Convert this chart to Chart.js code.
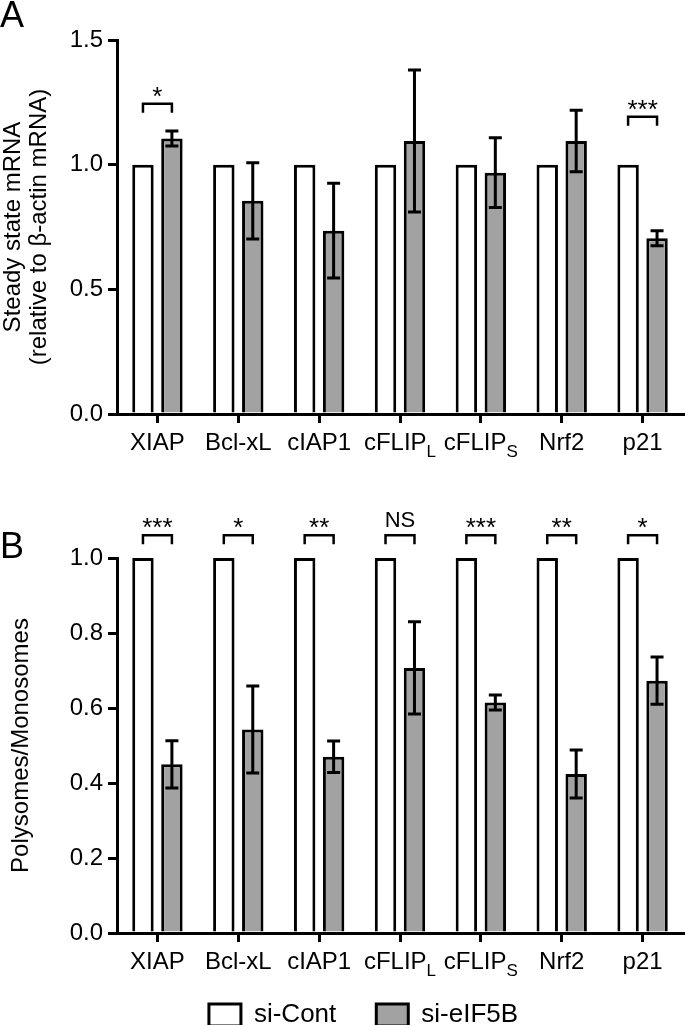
<!DOCTYPE html>
<html>
<head>
<meta charset="utf-8">
<script src="https://cdn.jsdelivr.net/npm/chart.js@4.4.1/dist/chart.umd.min.js"></script>
<style>
  html, body { margin: 0; padding: 0; background: #fff; overflow: hidden; }
  #page { position: relative; width: 685px; height: 1025px; overflow: hidden; }
  .panel-letter { position: absolute; left: 0; font: 36px 'Liberation Sans', Arial, sans-serif; line-height: 1; }
  canvas { position: absolute; left: 0; }
</style>
</head>
<body>
<div id="page">
  <canvas id="chartA" width="685" height="470" style="top:0"></canvas>
  <canvas id="chartB" width="685" height="575" style="top:470px"></canvas>
  <div class="panel-letter" style="top:-3px">A</div>
  <div class="panel-letter" style="top:528px">B</div>
</div>
<script>
const genes = ['XIAP', 'Bcl-xL', 'cIAP1', 'cFLIP_L', 'cFLIP_S', 'Nrf2', 'p21'];

// A: steady state mRNA, relative to beta-actin
const mrnaCont = [1, 1, 1, 1, 1, 1, 1];
const mrnaKd = [1.105, 0.855, 0.735, 1.095, 0.968, 1.095, 0.705];
const mrnaKdErr = [0.03, 0.153, 0.19, 0.285, 0.14, 0.123, 0.03];
const mrnaSig = ['*', '', '', '', '', '', '***'];
const mrnaTicks = [0, 0.5, 1.0, 1.5];

// B: polysomes / monosomes
const polyCont = [1, 1, 1, 1, 1, 1, 1];
const polyKd = [0.45, 0.543, 0.47, 0.707, 0.615, 0.424, 0.673];
const polyKdErr = [0.063, 0.116, 0.042, 0.123, 0.02, 0.064, 0.063];
const polySig = ['***', '*', '**', 'NS', '***', '**', '*'];
const polyTicks = [0, 0.2, 0.4, 0.6, 0.8, 1.0];

const FONT = "'Liberation Sans', Arial, sans-serif";
Chart.defaults.font.family = FONT;
Chart.defaults.color = '#000';

// error bars on the si-eIF5B bars
const errorBars = {
    id: 'errorBars',
    afterDatasetsDraw(chart, args, opts) {
        const ctx = chart.ctx;
        const y = chart.scales.y;
        const meta = chart.getDatasetMeta(1);
        const vals = chart.data.datasets[1].data;
        ctx.save();
        ctx.strokeStyle = '#000';
        ctx.lineWidth = 3;
        opts.err.forEach((e, i) => {
            const x = meta.data[i].x;
            const top = y.getPixelForValue(vals[i] + e);
            const bot = y.getPixelForValue(vals[i] - e);
            ctx.beginPath();
            ctx.moveTo(x, top);
            ctx.lineTo(x, bot);
            ctx.moveTo(x - 6.5, top);
            ctx.lineTo(x + 6.5, top);
            ctx.moveTo(x - 6.5, bot);
            ctx.lineTo(x + 6.5, bot);
            ctx.stroke();
        });
        ctx.restore();
    },
};

// category labels with subscripts (cFLIP_L -> cFLIP + small lowered L)
const subLabels = {
    id: 'subLabels',
    afterDraw(chart) {
        const ctx = chart.ctx;
        const x = chart.scales.x;
        const base = chart.chartArea.bottom + 36;
        ctx.save();
        ctx.fillStyle = '#000';
        ctx.textBaseline = 'alphabetic';
        ctx.textAlign = 'left';
        chart.data.labels.forEach((lab, i) => {
            const [main, sub] = lab.split('_');
            ctx.font = '24px ' + FONT;
            const w1 = ctx.measureText(main).width;
            ctx.font = '17px ' + FONT;
            const w2 = sub ? ctx.measureText(sub).width : 0;
            const left = x.getPixelForTick(i) - (w1 + w2) / 2;
            ctx.font = '24px ' + FONT;
            ctx.fillText(main, left, base);
            if (sub) {
                ctx.font = '17px ' + FONT;
                ctx.fillText(sub, left + w1, base + 7);
            }
        });
        ctx.restore();
    },
};

// significance brackets above each pair
const sigMarks = {
    id: 'sigMarks',
    afterDraw(chart, args, opts) {
        const ctx = chart.ctx;
        const y = chart.scales.y;
        const m0 = chart.getDatasetMeta(0);
        const m1 = chart.getDatasetMeta(1);
        ctx.save();
        ctx.strokeStyle = '#000';
        ctx.fillStyle = '#000';
        ctx.lineWidth = 2.5;
        ctx.textAlign = 'center';
        ctx.textBaseline = 'alphabetic';
        opts.text.forEach((t, i) => {
            if (!t) return;
            const x1 = m0.data[i].x;
            const x2 = m1.data[i].x;
            const yb = y.getPixelForValue(opts.level[i]);
            ctx.beginPath();
            ctx.moveTo(x1, yb + 9);
            ctx.lineTo(x1, yb);
            ctx.lineTo(x2, yb);
            ctx.lineTo(x2, yb + 9);
            ctx.stroke();
            if (t.startsWith('*')) {
                ctx.font = '26px ' + FONT;
                ctx.fillText(t, (x1 + x2) / 2, yb + 1);
            } else {
                ctx.font = '22px ' + FONT;
                ctx.fillText(t, (x1 + x2) / 2, yb - 8);
            }
        });
        ctx.restore();
    },
};

function makeDatasets(cont, kd) {
    return [
        {
            label: 'si-Cont',
            data: cont,
            backgroundColor: '#ffffff',
            borderColor: '#000000',
            borderWidth: 3,
            categoryPercentage: 0.716,
            barPercentage: 0.74,
        },
        {
            label: 'si-eIF5B',
            data: kd,
            backgroundColor: '#a2a2a2',
            borderColor: '#000000',
            borderWidth: 3,
            categoryPercentage: 0.716,
            barPercentage: 0.74,
        },
    ];
}

function makeScales(tickList, max, title, xHeight, yWidth, titlePad) {
    return {
        x: {
            afterFit(scale) { scale.height = xHeight; },
            ticks: { display: false },
            grid: { offset: false, drawOnChartArea: false, tickLength: 9, lineWidth: 3, color: '#000' },
            border: { color: '#000', width: 3 },
        },
        y: {
            min: 0,
            max: max,
            afterFit(scale) { scale.width = yWidth; },
            afterBuildTicks(scale) { scale.ticks = tickList.map(v => ({ value: v })); },
            ticks: {
                callback: v => v.toFixed(1),
                font: { size: 24 },
                color: '#000',
                padding: 5,
            },
            grid: { drawOnChartArea: false, tickLength: 9, lineWidth: 3, color: '#000' },
            border: { color: '#000', width: 3 },
            title: {
                display: true,
                text: title,
                color: '#000',
                font: { size: 24, lineHeight: 1.08 },
                padding: { top: titlePad, bottom: 0 },
            },
        },
    };
}

const mrnaChart = new Chart(document.getElementById('chartA'), {
    type: 'bar',
    data: { labels: genes, datasets: makeDatasets(mrnaCont, mrnaKd) },
    options: {
        responsive: false,
        animation: false,
        devicePixelRatio: 1,
        layout: { padding: { top: 40, right: 2, left: 0, bottom: 0 } },
        scales: makeScales(mrnaTicks, 1.5, ['Steady state mRNA', '(relative to \u03b2-actin mRNA)'], 56, 117, 0),
        plugins: {
            legend: { display: false },
            tooltip: { enabled: false },
            errorBars: { err: mrnaKdErr },
            sigMarks: { text: mrnaSig, level: [1.244, 0, 0, 0, 0, 0, 1.192] },
        },
    },
    plugins: [errorBars, subLabels, sigMarks],
});

const polyChart = new Chart(document.getElementById('chartB'), {
    type: 'bar',
    data: { labels: genes, datasets: makeDatasets(polyCont, polyKd) },
    options: {
        responsive: false,
        animation: false,
        devicePixelRatio: 1,
        layout: { padding: { top: 88, right: 2, left: 44, bottom: 7 } },
        scales: makeScales(polyTicks, 1.0, ['Polysomes/Monosomes'], 29, 73, -36),
        plugins: {
            legend: {
                position: 'bottom',
                labels: { boxWidth: 32, boxHeight: 22, padding: 40, color: '#000', font: { size: 26 } },
            },
            tooltip: { enabled: false },
            errorBars: { err: polyKdErr },
            sigMarks: { text: polySig, level: [1.061, 1.061, 1.061, 1.061, 1.061, 1.061, 1.061] },
        },
    },
    plugins: [errorBars, subLabels, sigMarks],
});
</script>
</body>
</html>
